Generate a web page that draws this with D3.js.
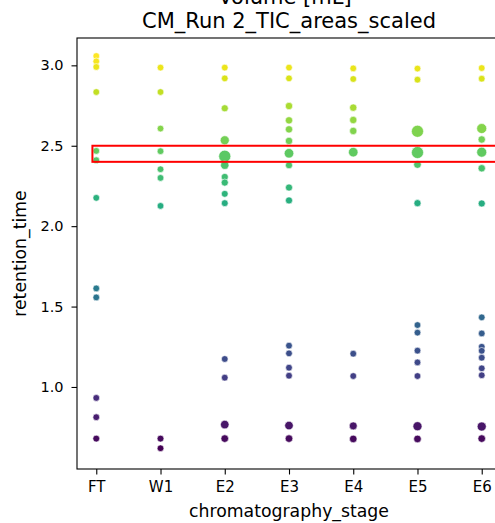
<!DOCTYPE html>
<html>
<head>
<meta charset="utf-8">
<script src="https://cdn.jsdelivr.net/npm/d3@7"></script>
<style>
  html, body { margin: 0; padding: 0; background: #fff; }
  svg { display: block; font-family: "DejaVu Sans", sans-serif; }
</style>
</head>
<body>
<svg id="chart" width="495" height="523"></svg>
<script>
// Chromatography stages on the x axis
const stages = ["FT", "W1", "E2", "E3", "E4", "E5", "E6"];

// Retention times (min) of detected peaks, per stage
const rtFT = [3.058, 3.025, 2.990, 2.834, 2.468, 2.410, 2.176, 1.613, 1.557, 0.932, 0.812, 0.679];
const rtW1 = [2.986, 2.834, 2.607, 2.466, 2.354, 2.300, 2.126, 0.679, 0.619];
const rtE2 = [2.986, 2.919, 2.733, 2.534, 2.435, 2.379, 2.306, 2.271, 2.201, 2.143, 1.174, 1.058, 0.766, 0.679];
const rtE3 = [2.986, 2.919, 2.747, 2.658, 2.602, 2.530, 2.453, 2.379, 2.240, 2.160, 1.257, 1.209, 1.120, 1.070, 0.760, 0.679];
const rtE4 = [2.981, 2.915, 2.737, 2.660, 2.592, 2.460, 1.207, 1.068, 0.758, 0.677];
const rtE5 = [2.980, 2.911, 2.590, 2.458, 2.383, 2.143, 1.385, 1.338, 1.226, 1.153, 1.068, 0.756, 0.677];
const rtE6 = [2.983, 2.917, 2.607, 2.539, 2.460, 2.360, 2.141, 1.433, 1.333, 1.250, 1.225, 1.182, 1.116, 1.073, 0.754, 0.679];

// Scaled TIC peak areas, same order as the retention times
const areaFT = [0.05, 0.05, 0.05, 0.05, 0.05, 0.05, 0.05, 0.05, 0.05, 0.05, 0.05, 0.06];
const areaW1 = [0.05, 0.05, 0.05, 0.05, 0.05, 0.05, 0.05, 0.06, 0.05];
const areaE2 = [0.05, 0.05, 0.08, 0.25, 0.60, 0.18, 0.08, 0.08, 0.06, 0.06, 0.05, 0.05, 0.20, 0.12];
const areaE3 = [0.05, 0.05, 0.10, 0.10, 0.10, 0.10, 0.30, 0.08, 0.08, 0.08, 0.05, 0.05, 0.05, 0.05, 0.20, 0.12];
const areaE4 = [0.05, 0.05, 0.10, 0.10, 0.10, 0.30, 0.05, 0.05, 0.15, 0.12];
const areaE5 = [0.05, 0.05, 0.60, 0.60, 0.12, 0.08, 0.05, 0.05, 0.05, 0.05, 0.05, 0.25, 0.12];
const areaE6 = [0.05, 0.05, 0.35, 0.10, 0.35, 0.10, 0.08, 0.05, 0.05, 0.05, 0.05, 0.05, 0.05, 0.05, 0.25, 0.12];

// Axis ticks and limits
const yTicks = [1.0, 1.5, 2.0, 2.5, 3.0];
const yLimits = [0.49, 3.17];

// Highlighted retention-time window
const windowRange = [2.4, 2.5];

const rtByStage = [rtFT, rtW1, rtE2, rtE3, rtE4, rtE5, rtE6];
const areaByStage = [areaFT, areaW1, areaE2, areaE3, areaE4, areaE5, areaE6];
const points = [];
stages.forEach((s, i) => {
  rtByStage[i].forEach((rt, j) => points.push({ stage: s, rt: rt, area: areaByStage[i][j] }));
});

const svg = d3.select("#chart");
const plot = { left: 77, top: 38, right: 501, bottom: 469 };

const x = d3.scalePoint().domain(stages).range([plot.left, plot.right]).padding(0.3);
const y = d3.scaleLinear().domain(yLimits).range([plot.bottom, plot.top]);
const color = d3.scaleSequential(d3.interpolateViridis).domain(d3.extent(points, d => d.rt));
// marker area (px^2) grows linearly with peak area
const markerArea = d3.scaleLinear().domain([0, 1]).range([28, 173]);

// points
svg.append("g")
  .selectAll("circle")
  .data(points)
  .join("circle")
  .attr("cx", d => x(d.stage))
  .attr("cy", d => y(d.rt))
  .attr("r", d => Math.sqrt(markerArea(d.area) / Math.PI))
  .attr("fill", d => color(d.rt))
  .attr("stroke", "#fff")
  .attr("stroke-width", 0.6);

// highlighted window
const step = x.step();
svg.append("rect")
  .attr("x", x(stages[0]) - 0.06 * step)
  .attr("y", y(windowRange[1]))
  .attr("width", x(stages[stages.length - 1]) + 0.35 * step - (x(stages[0]) - 0.06 * step))
  .attr("height", y(windowRange[0]) - y(windowRange[1]))
  .attr("fill", "none")
  .attr("stroke", "#ff0000")
  .attr("stroke-width", 2);

// frame
svg.append("rect")
  .attr("x", plot.left).attr("y", plot.top)
  .attr("width", plot.right - plot.left).attr("height", plot.bottom - plot.top)
  .attr("fill", "none").attr("stroke", "#000").attr("stroke-width", 1.1);

// x axis
const xAxis = svg.append("g")
  .attr("transform", `translate(0,${plot.bottom})`)
  .call(d3.axisBottom(x).tickSize(5.5).tickPadding(7));
xAxis.select(".domain").remove();
xAxis.selectAll("line").attr("stroke", "#000").attr("stroke-width", 1.1);
xAxis.selectAll("text").attr("font-size", 15).attr("fill", "#000")
  .attr("font-family", "DejaVu Sans");

// y axis
const yAxis = svg.append("g")
  .attr("transform", `translate(${plot.left},0)`)
  .call(d3.axisLeft(y).tickValues(yTicks).tickFormat(d3.format(".1f")).tickSize(5.5).tickPadding(8));
yAxis.select(".domain").remove();
yAxis.selectAll("line").attr("stroke", "#000").attr("stroke-width", 1.1);
yAxis.selectAll("text").attr("font-size", 14.5).attr("fill", "#000")
  .attr("font-family", "DejaVu Sans");

// axis labels
svg.append("text")
  .attr("x", (plot.left + plot.right) / 2).attr("y", 517)
  .attr("text-anchor", "middle").attr("font-size", 17.3)
  .text("chromatography_stage");

svg.append("text")
  .attr("transform", `translate(26,${(plot.top + plot.bottom) / 2}) rotate(-90)`)
  .attr("text-anchor", "middle").attr("font-size", 17.3)
  .text("retention_time");

// titles
svg.append("text")
  .attr("x", (plot.left + plot.right) / 2).attr("y", 28)
  .attr("text-anchor", "middle").attr("font-size", 21)
  .text("CM_Run 2_TIC_areas_scaled");

svg.append("text")
  .attr("x", (plot.left + plot.right) / 2 - 4).attr("y", 4)
  .attr("text-anchor", "middle").attr("font-size", 21)
  .text("Volume [mL]");
</script>
</body>
</html>
